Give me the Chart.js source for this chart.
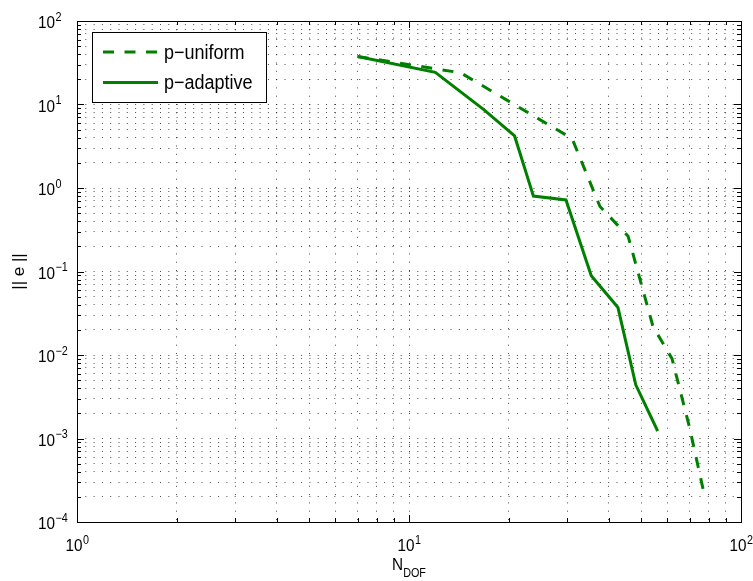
<!DOCTYPE html>
<html>
<head>
<meta charset="utf-8">
<script src="https://cdn.jsdelivr.net/npm/chart.js@4.4.1/dist/chart.umd.min.js"></script>
<style>
  html, body { margin: 0; padding: 0; background: #fff; }
  canvas { display: block; }
</style>
</head>
<body>
<canvas id="c" width="753" height="581"></canvas>
<script>
// Error norm versus number of degrees of freedom
const seriesNames = ['p\u2212uniform', 'p\u2212adaptive'];
const uniformN   = [7, 14.3, 31, 37.6, 45.7, 54.3, 62, 70, 78];
const uniformErr = [37.6, 24.0, 3.9, 0.6, 0.265, 0.022, 0.009, 0.00135, 0.00019];
const adaptiveN   = [7, 12, 16.8, 20.8, 23.7, 29.7, 35.4, 42.6, 48.2, 56.1];
const adaptiveErr = [37.6, 24.3, 8.7, 4.2, 0.8, 0.72, 0.089, 0.037, 0.0044, 0.00123];

// Decade exponents for the tick labels, and the minor steps inside a decade
const xDecades = [0, 1, 2];
const yDecades = [-4, -3, -2, -1, 0, 1, 2];
const minorSteps = [2, 3, 4, 5, 6, 7, 8, 9];
const xTitle = 'N';
const xTitleSub = 'DOF';
const yTitle = '|| e ||';

const GREEN = '#008000';
const FONT = '"Liberation Sans", Arial, Helvetica, sans-serif';
const SX = 0.9; // horizontal squeeze applied to all text

function logTicks(decades) {
  const out = [];
  decades.forEach((e, i) => {
    out.push({ value: Math.pow(10, e), major: true });
    if (i < decades.length - 1) {
      minorSteps.forEach(m => out.push({ value: m * Math.pow(10, e), major: false }));
    }
  });
  return out;
}

function toPoints(xs, ys) {
  return xs.map((v, i) => ({ x: v, y: ys[i] }));
}

function expText(e) {
  return e < 0 ? '\u2212' + Math.abs(e) : String(e);
}

function text(ctx, str, x, y, size, align) {
  ctx.save();
  ctx.font = size + 'px ' + FONT;
  const w = ctx.measureText(str).width * SX;
  let x0 = x;
  if (align === 'right') x0 = x - w;
  else if (align === 'center') x0 = x - w / 2;
  ctx.translate(x0, y);
  ctx.scale(SX, 1);
  ctx.textAlign = 'left';
  ctx.textBaseline = 'alphabetic';
  ctx.fillText(str, 0, 0);
  ctx.restore();
  return w;
}

function textWidth(ctx, str, size) {
  ctx.save();
  ctx.font = size + 'px ' + FONT;
  const w = ctx.measureText(str).width * SX;
  ctx.restore();
  return w;
}

const framePlugin = {
  id: 'frame',
  afterDatasetsDraw(chart) {
    const { ctx, chartArea: a, scales } = chart;
    const xs = scales.x, ys = scales.y;
    ctx.save();
    ctx.strokeStyle = '#000';
    ctx.fillStyle = '#000';
    ctx.lineWidth = 1;
    ctx.setLineDash([]);

    // inward tick marks on all four sides
    ctx.beginPath();
    logTicks(xDecades).forEach(t => {
      const px = Math.round(xs.getPixelForValue(t.value)) + 0.5;
      const len = t.major ? 7 : 4;
      ctx.moveTo(px, a.bottom); ctx.lineTo(px, a.bottom - len);
      ctx.moveTo(px, a.top); ctx.lineTo(px, a.top + len);
    });
    logTicks(yDecades).forEach(t => {
      const py = Math.round(ys.getPixelForValue(t.value)) + 0.5;
      const len = t.major ? 7 : 4;
      ctx.moveTo(a.left, py); ctx.lineTo(a.left + len, py);
      ctx.moveTo(a.right, py); ctx.lineTo(a.right - len, py);
    });
    ctx.stroke();

    // axes box
    ctx.strokeRect(Math.round(a.left) + 0.5, Math.round(a.top) + 0.5,
                   Math.round(a.right - a.left), Math.round(a.bottom - a.top));

    // y tick labels: 10 with superscript exponent
    yDecades.forEach(e => {
      const py = ys.getPixelForValue(Math.pow(10, e));
      text(ctx, '10', a.left - 22, py + 7, 17, 'right');
      text(ctx, expText(e), a.left - 21.5, py - 0.5, 12, 'left');
    });

    // x tick labels
    xDecades.forEach(e => {
      const px = xs.getPixelForValue(Math.pow(10, e));
      const w1 = textWidth(ctx, '10', 17);
      const w2 = textWidth(ctx, expText(e), 12);
      const x0 = px - (w1 + w2) / 2;
      text(ctx, '10', x0, a.bottom + 29, 17, 'left');
      text(ctx, expText(e), x0 + w1 + 0.5, a.bottom + 21.5, 12, 'left');
    });

    // x axis title with subscript
    const cx = (a.left + a.right) / 2;
    const wN = textWidth(ctx, xTitle, 17);
    const wS = textWidth(ctx, xTitleSub, 12);
    const tx0 = cx - (wN + wS) / 2;
    text(ctx, xTitle, tx0, a.bottom + 48, 17, 'left');
    text(ctx, xTitleSub, tx0 + wN, a.bottom + 55, 12, 'left');

    // y axis title
    ctx.save();
    ctx.translate(19, (a.top + a.bottom) / 2);
    ctx.rotate(-Math.PI / 2);
    ctx.font = '17px ' + FONT;
    ctx.textAlign = 'center';
    ctx.textBaseline = 'middle';
    ctx.fillText(yTitle, 0, 0);
    ctx.restore();

    // legend
    const lx = a.left + 14.5, ly = a.top + 11, lw = 174, lh = 70;
    ctx.fillStyle = '#fff';
    ctx.fillRect(lx, ly, lw, lh);
    ctx.strokeStyle = '#000';
    ctx.lineWidth = 1;
    ctx.strokeRect(Math.round(lx) + 0.5, Math.round(ly) + 0.5, lw, lh);
    const rows = [30.5, 61];
    chart.data.datasets.forEach((ds, i) => {
      const yy = ly + rows[i] - 11 + 0.5;
      ctx.save();
      ctx.strokeStyle = ds.borderColor;
      ctx.lineWidth = ds.borderWidth;
      ctx.lineCap = 'butt';
      ctx.setLineDash(ds.borderDash || []);
      ctx.beginPath();
      ctx.moveTo(lx + 11.5, yy);
      ctx.lineTo(lx + 66.5, yy);
      ctx.stroke();
      ctx.restore();
      ctx.fillStyle = '#000';
      text(ctx, ds.label, lx + 72.5, yy + 6.5, 20, 'left');
    });
    ctx.restore();
  }
};

const gridStyle = {
  color: 'rgba(0,0,0,0.7)',
  lineWidth: 1,
  drawTicks: false
};

new Chart(document.getElementById('c'), {
  type: 'line',
  data: {
    datasets: [
      {
        label: seriesNames[0],
        data: toPoints(uniformN, uniformErr),
        borderColor: GREEN,
        borderWidth: 3,
        borderDash: [11, 10.5],
        borderCapStyle: 'butt',
        pointRadius: 0,
        tension: 0,
        fill: false
      },
      {
        label: seriesNames[1],
        data: toPoints(adaptiveN, adaptiveErr),
        borderColor: GREEN,
        borderWidth: 3,
        borderCapStyle: 'butt',
        pointRadius: 0,
        tension: 0,
        fill: false
      }
    ]
  },
  options: {
    responsive: false,
    devicePixelRatio: 1,
    animation: false,
    layout: { padding: { left: 77, right: 12, top: 21, bottom: 59 } },
    plugins: { legend: { display: false }, tooltip: { enabled: false } },
    scales: {
      x: {
        type: 'logarithmic',
        min: 1, max: 100,
        afterBuildTicks: s => { s.ticks = logTicks(xDecades).map(t => ({ value: t.value })); },
        ticks: { display: false },
        grid: gridStyle,
        border: { display: false, dash: [1, 7.3] }
      },
      y: {
        type: 'logarithmic',
        min: 1e-4, max: 100,
        afterBuildTicks: s => { s.ticks = logTicks(yDecades).map(t => ({ value: t.value })); },
        ticks: { display: false },
        grid: gridStyle,
        border: { display: false, dash: [1, 7.3] }
      }
    }
  },
  plugins: [framePlugin]
});
</script>
</body>
</html>
